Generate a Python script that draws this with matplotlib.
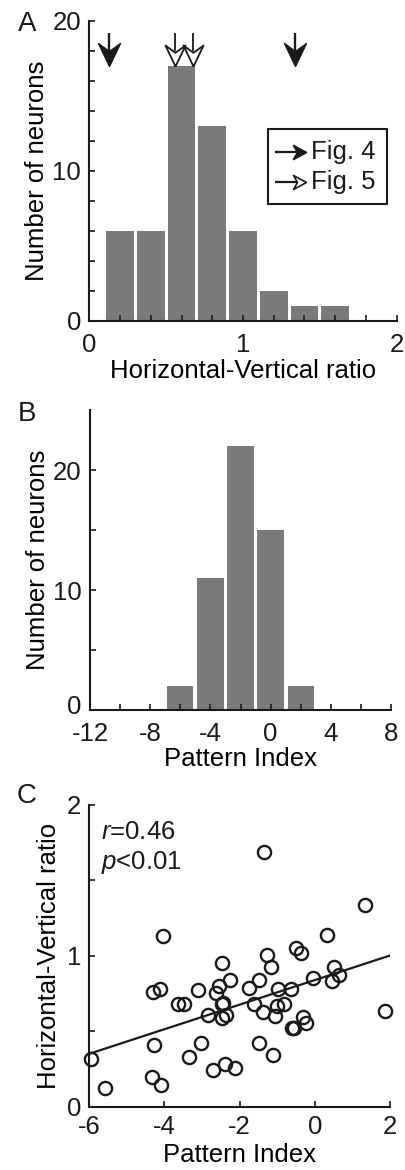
import numpy as np
import matplotlib
matplotlib.use('Agg')
import matplotlib.pyplot as plt
from matplotlib.patches import Rectangle
from matplotlib.transforms import ScaledTranslation

plt.rcParams['font.family'] = 'Liberation Sans'
plt.rcParams['mathtext.fontset'] = 'custom'
plt.rcParams['mathtext.it'] = 'Liberation Sans:italic'
plt.rcParams['mathtext.rm'] = 'Liberation Sans'

# Panel A: histogram of horizontal-vertical ratio
hv_centers = [0.2, 0.4, 0.6, 0.8, 1.0, 1.2, 1.4, 1.6]
hv_counts = [6, 6, 17, 13, 6, 2, 1, 1]
fig4_ratios = [0.128, 1.338]   # filled arrows
fig5_ratios = [0.557, 0.673]   # open arrows

# Panel B: histogram of pattern index
pi_centers = [-6, -4, -2, 0, 2]
pi_counts = [2, 11, 22, 15, 2]

# Panel C: scatter of pattern index vs ratio
pattern_idx = [-5.96, -5.58, -4.31, -4.12, -4.05, -4.28, -4.34, -4.09, -3.65, -3.47,
               -3.11, -3.36, -3.03, -2.83, -2.72, -2.40, -2.12, -2.47, -2.25, -2.56,
               -2.62, -2.47, -2.44, -2.47, -2.36, -1.74, -1.49, -1.61, -1.38, -1.36,
               -1.27, -1.16, -1.49, -1.12, -1.05, -0.99, -1.00, -0.83, -0.63, -0.62,
               -0.56, -0.49, -0.38, -0.31, -0.23, -0.05, 0.33, 0.46, 0.51, 0.64,
               1.33, 1.88]
hv_ratio = [0.313, 0.121, 0.759, 0.777, 1.130, 0.408, 0.199, 0.143, 0.680, 0.680,
            0.773, 0.331, 0.419, 0.607, 0.243, 0.280, 0.254, 0.954, 0.839, 0.801,
            0.751, 0.680, 0.689, 0.585, 0.611, 0.784, 0.839, 0.678, 0.629, 1.689,
            1.004, 0.923, 0.419, 0.342, 0.600, 0.779, 0.667, 0.680, 0.777, 0.525,
            0.519, 1.055, 1.020, 0.596, 0.552, 0.850, 1.137, 0.834, 0.923, 0.876,
            1.336, 0.634]

bar_color = '#7a7a7a'
ink = '#1a1a1a'
fs = 18.5

W, H = 405, 1170
fig = plt.figure(figsize=(W / 100, H / 100), dpi=100)


def style(ax, xpad):
    ax.spines['top'].set_visible(False)
    ax.spines['right'].set_visible(False)
    for s in ('left', 'bottom'):
        ax.spines[s].set_linewidth(1.5)
        ax.spines[s].set_color(ink)
    ax.tick_params(direction='in', length=4, width=1.2, labelsize=fs, colors=ink)
    ax.tick_params(axis='x', pad=xpad)
    ax.tick_params(axis='y', pad=6)
    ax.tick_params(which='minor', direction='in', length=4, width=1.2, colors=ink)


# notched arrow heads (tip at the marker origin)
dart_down = [(0, 0), (11, 23), (0, 15), (-11, 23), (0, 0)]
dart_right = [(0, 0), (-13, 7), (-9, 0), (-13, -7), (0, 0)]
px2pt = 72 / 100

# ---- A ----
axA = fig.add_axes([89.3 / W, 1 - 320.7 / H, 307.4 / W, 300 / H])
axA.bar(hv_centers, hv_counts, width=0.18, color=bar_color, edgecolor='none')
axA.set_xlim(0, 2)
axA.set_ylim(0, 20)
axA.set_xticks([0, 1, 2])
axA.set_xticks(np.arange(0.2, 2, 0.2), minor=True)
axA.set_yticks([0, 10, 20])
axA.set_yticks(np.arange(2, 20, 2), minor=True)
style(axA, 9)
axA.set_xlabel('Horizontal-Vertical ratio', fontsize=fs, labelpad=1)
axA.set_ylabel('Number of neurons', fontsize=fs, labelpad=2)

tip_y, notch_y, top_y = 17.0, 17.0 + 15 / 15, 19.2
for x in fig4_ratios:
    axA.plot([x, x], [top_y, notch_y], color=ink, lw=1.7, solid_capstyle='butt')
    axA.plot(x, tip_y, marker=dart_down, ms=46 * px2pt, mfc=ink, mec=ink, mew=1,
             clip_on=False)
for x in fig5_ratios:
    axA.plot([x, x], [top_y, notch_y], color=ink, lw=1.3, solid_capstyle='butt')
    axA.plot(x, tip_y, marker=dart_down, ms=42 * px2pt, mfc='white', mec=ink,
             mew=1.3, clip_on=False)

# legend box
axA.add_patch(Rectangle((0.581, 0.389), 0.387, 0.249, transform=axA.transAxes,
                        fill=False, ec=ink, lw=1.5, clip_on=False))
for yy, fc, lab in [(0.563, ink, 'Fig. 4'), (0.463, 'white', 'Fig. 5')]:
    axA.plot([0.604, 0.678], [yy, yy], transform=axA.transAxes, color=ink, lw=1.6,
             solid_capstyle='butt')
    axA.plot(0.706, yy, transform=axA.transAxes, marker=dart_right, ms=26 * px2pt,
             mfc=fc, mec=ink, mew=1.2)
    axA.text(0.721, yy, lab, transform=axA.transAxes, fontsize=fs, va='center',
             ha='left', color=ink)
fig.text(18 / W, 1 - 24 / H, 'A', fontsize=20, va='center', ha='left', color=ink)

# ---- B ----
axB = fig.add_axes([90 / W, 1 - 710 / H, 301 / W, 300 / H])
axB.bar(pi_centers, pi_counts, width=1.75, color=bar_color, edgecolor='none')
axB.set_xlim(-12, 8)
axB.set_ylim(0, 25)
axB.set_xticks([-12, -8, -4, 0, 4, 8])
axB.set_xticklabels(['-12', '-8', '-4', '0', '4', '8'])
axB.set_xticks(np.arange(-10, 8, 4), minor=True)
axB.set_yticks([0, 10, 20])
axB.set_yticks([5, 15], minor=True)
style(axB, 8.5)
# nudge the "0" count label up so it clears the "-12" tick label
zero_lab = axB.yaxis.get_major_ticks()[0].label1
zero_lab.set_transform(zero_lab.get_transform() +
                       ScaledTranslation(0, 4 / 72, fig.dpi_scale_trans))
axB.set_xlabel('Pattern Index', fontsize=fs, labelpad=1)
axB.set_ylabel('Number of neurons', fontsize=fs, labelpad=2)
fig.text(18 / W, 1 - 414 / H, 'B', fontsize=20, va='center', ha='left', color=ink)

# ---- C ----
axC = fig.add_axes([89.3 / W, 1 - 1106.7 / H, 300.7 / W, 301.7 / H])
axC.plot(pattern_idx, hv_ratio, 'o', mfc='none', mec=ink, ms=9.5, mew=1.7,
         clip_on=False)
slope, intercept = np.polyfit(pattern_idx, hv_ratio, 1)
xs = np.array([-6, 2])
axC.plot(xs, intercept + slope * xs, color=ink, lw=1.6)
axC.set_xlim(-6, 2)
axC.set_ylim(0, 2)
axC.set_xticks([-6, -4, -2, 0, 2])
axC.set_xticklabels(['-6', '-4', '-2', '0', '2'])
axC.set_yticks([0, 1, 2])
axC.set_yticks([0.5, 1.5], minor=True)
style(axC, 6)
axC.set_xlabel('Pattern Index', fontsize=fs, labelpad=3)
axC.set_ylabel('Horizontal-Vertical ratio', fontsize=fs, labelpad=4)
axC.text(0.04, 0.91, r'$\mathit{r}$=0.46', transform=axC.transAxes, fontsize=fs,
         va='center', color=ink)
axC.text(0.04, 0.81, r'$\mathit{p}$<0.01', transform=axC.transAxes, fontsize=fs,
         va='center', color=ink)
fig.text(17 / W, 1 - 796 / H, 'C', fontsize=20, va='center', ha='left', color=ink)

fig.savefig('out.png', dpi=100)
